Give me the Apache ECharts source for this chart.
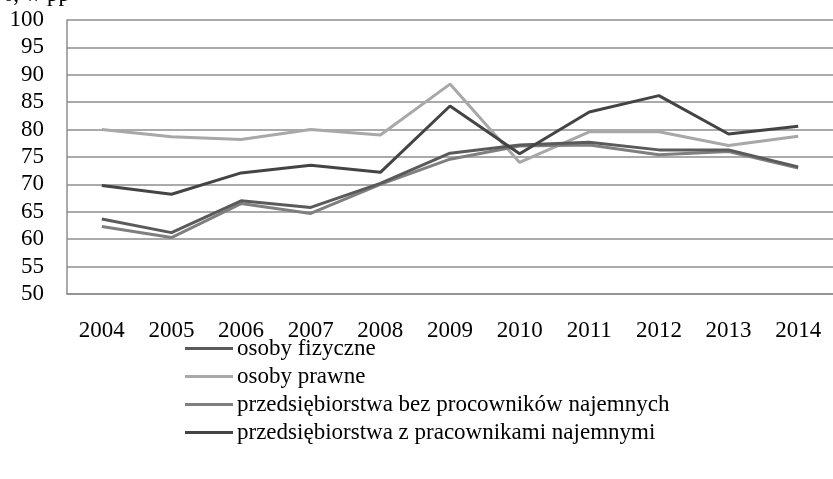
<!DOCTYPE html>
<html>
<head>
<meta charset="utf-8">
<script src="https://cdn.jsdelivr.net/npm/echarts@6/dist/echarts.min.js"></script>
<style>
  html, body { margin: 0; padding: 0; background: #fff; }
  #chart { width: 833px; height: 479px; }
</style>
</head>
<body>
<div id="chart"></div>
<script>
// lata
var years = ['2004', '2005', '2006', '2007', '2008', '2009', '2010', '2011', '2012', '2013', '2014']
var seriesNames = [
  'osoby fizyczne',
  'osoby prawne',
  'przedsiębiorstwa bez procowników najemnych',
  'przedsiębiorstwa z pracownikami najemnymi'
]
var osobyFizyczne = [63.7, 61.2, 67.0, 65.8, 70.2, 75.7, 77.2, 77.7, 76.3, 76.3, 73.2]
var osobyPrawne = [80.0, 78.7, 78.2, 80.0, 79.0, 88.3, 74.0, 79.6, 79.6, 77.1, 78.8]
var bezPracownikow = [62.3, 60.3, 66.5, 64.7, 70.0, 74.6, 77.0, 77.2, 75.4, 76.0, 73.0]
var zPracownikami = [69.8, 68.2, 72.1, 73.5, 72.2, 84.3, 75.6, 83.2, 86.2, 79.2, 80.6]
var yTicks = [50, 100, 5] // min, max, krok

var colors = ['#5a5a5a', '#a8a8a8', '#7f7f7f', '#444444']
var font = 'Liberation Serif'

var chart = echarts.init(document.getElementById('chart'))

function line(name, data, color) {
  return {
    name: name,
    type: 'line',
    data: data,
    symbol: 'none',
    smooth: false,
    animation: false,
    lineStyle: { color: color, width: 3 },
    itemStyle: { color: color }
  }
}

chart.setOption({
  animation: false,
  textStyle: { fontFamily: font },
  title: {
    text: '%, w pp',
    left: -11,
    top: -22,
    textStyle: { fontFamily: font, fontSize: 23, fontWeight: 'normal', color: '#000' }
  },
  grid: {
    left: 67,
    right: 0,
    top: 20,
    bottom: 185,
    containLabel: false
  },
  xAxis: {
    type: 'category',
    data: years,
    boundaryGap: true,
    axisLine: { show: true, lineStyle: { color: '#8e8e8e', width: 1.5 } },
    axisTick: { show: false },
    axisLabel: { color: '#000', fontSize: 23, fontFamily: font, margin: 25 }
  },
  yAxis: {
    type: 'value',
    min: yTicks[0],
    max: yTicks[1],
    interval: yTicks[2],
    axisLine: { show: true, lineStyle: { color: '#8e8e8e', width: 1.5 } },
    axisTick: { show: false },
    axisLabel: { color: '#000', fontSize: 23, fontFamily: font, margin: 23 },
    splitLine: { show: true, lineStyle: { color: '#8e8e8e', width: 1.5 } }
  },
  legend: {
    orient: 'vertical',
    left: 180,
    top: 332,
    itemWidth: 48,
    itemHeight: 3,
    itemGap: 5,
    icon: 'rect',
    textStyle: { color: '#000', fontSize: 23, fontFamily: font, padding: [0, 0, 0, -1] },
    data: seriesNames
  },
  series: [
    line(seriesNames[1], osobyPrawne, colors[1]),
    line(seriesNames[2], bezPracownikow, colors[2]),
    line(seriesNames[0], osobyFizyczne, colors[0]),
    line(seriesNames[3], zPracownikami, colors[3])
  ]
})
</script>
</body>
</html>
